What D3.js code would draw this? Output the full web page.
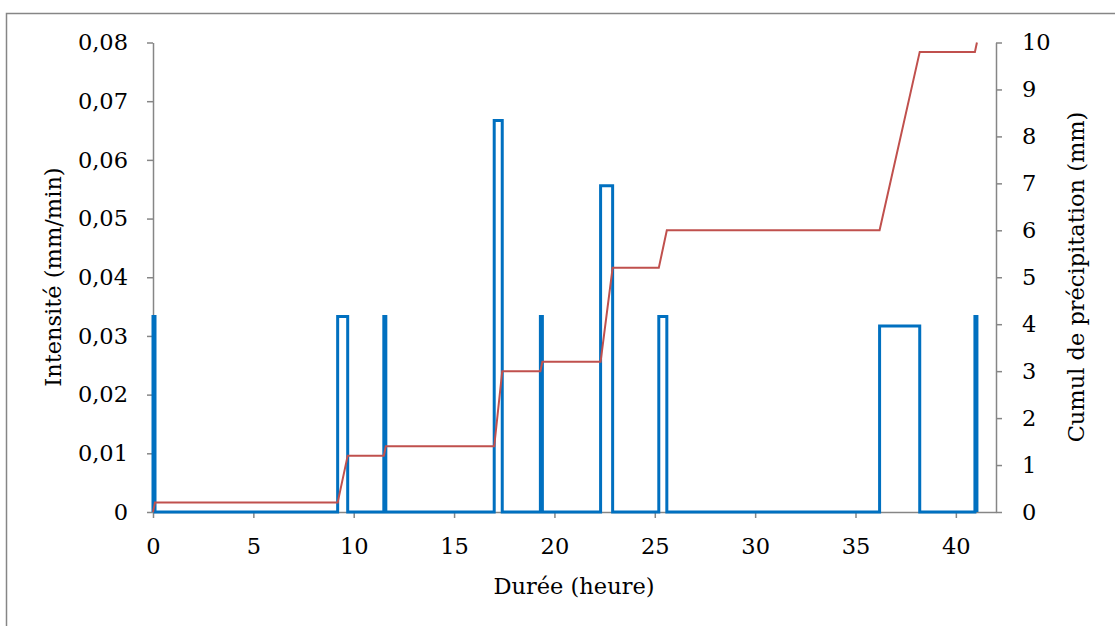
<!DOCTYPE html>
<html><head><meta charset="utf-8">
<script src="https://cdn.jsdelivr.net/npm/d3@7"></script>
<style>body{margin:0;background:#fff}svg{display:block}text{font-family:"DejaVu Serif",serif;fill:#000}</style>
</head><body><svg id="c" width="1115" height="626"></svg>
<script>
// Intensity step series: [start hour, end hour, intensity mm/min]
const burstStart = [0, 9.2, 11.5, 17.0, 19.3, 22.3, 25.2, 36.2, 40.95];
const burstEnd   = [0.1, 9.7, 11.6, 17.4, 19.4, 22.9, 25.6, 38.2, 41.05];
const burstIntensity = [0.0333, 0.0333, 0.0333, 0.0667, 0.0333, 0.0556, 0.0333, 0.0317, 0.0333];
// Cumulative precipitation (mm)
const cumHours = [0, 0.1, 9.2, 9.7, 11.5, 11.6, 17.0, 17.4, 19.3, 19.4, 22.3, 22.9, 25.2, 25.6, 36.2, 38.2, 40.95, 41.05];
const cumValues = [0, 0.2, 0.2, 1.2, 1.2, 1.4, 1.4, 3.0, 3.0, 3.2, 3.2, 5.2, 5.2, 6.0, 6.0, 9.8, 9.8, 10.0];
const xTicks = [0, 5, 10, 15, 20, 25, 30, 35, 40];
const yLeftTicks = [0, 0.01, 0.02, 0.03, 0.04, 0.05, 0.06, 0.07, 0.08];
const yRightTicks = [0,1,2,3,4,5,6,7,8,9,10];

const svg = d3.select("#c");
const x = d3.scaleLinear().domain([0, 42]).range([153, 996]);
const yL = d3.scaleLinear().domain([0, 0.08]).range([512, 42.5]);
const yR = d3.scaleLinear().domain([0, 10]).range([512, 42.5]);
const grey = "#868686";
const FS = "22.5px";

svg.append("rect").attr("x", 6.5).attr("y", 13.5).attr("width", 1300).attr("height", 800)
  .attr("fill", "none").attr("stroke", grey).attr("stroke-width", 1.5);

const fmt = d => d3.format(".2f")(d).replace(".", ",");

const ax = svg.append("g").attr("transform", "translate(0,512)")
  .call(d3.axisBottom(x).tickValues(xTicks).tickSize(6).tickSizeOuter(0).tickPadding(20).tickFormat(d3.format("d")));
const al = svg.append("g").attr("transform", "translate(153,0)")
  .call(d3.axisLeft(yL).tickValues(yLeftTicks).tickSize(6).tickSizeOuter(0).tickPadding(19).tickFormat(d => d === 0 ? "0" : fmt(d)));
const ar = svg.append("g").attr("transform", "translate(996,0)")
  .call(d3.axisRight(yR).tickValues(yRightTicks).tickSize(6).tickSizeOuter(0).tickPadding(20).tickFormat(d3.format("d")));
[ax, al, ar].forEach(g => {
  g.selectAll("path,line").attr("stroke", grey).attr("stroke-width", 1.5);
  g.selectAll("text").style("font-family", "DejaVu Serif, serif").style("font-size", FS).attr("fill", "#000");
});

// Blue step path
const pts = [[0, 0]];
burstStart.forEach((s, i) => {
  pts.push([s, 0], [s, burstIntensity[i]], [burstEnd[i], burstIntensity[i]], [burstEnd[i], 0]);
});
svg.append("path").datum(pts)
  .attr("d", d3.line().x(d => x(d[0])).y(d => yL(d[1])))
  .attr("fill", "none").attr("stroke", "#0070C0").attr("stroke-width", 3).attr("stroke-linejoin", "miter");

svg.append("path").datum(cumHours.map((h, i) => [h, cumValues[i]]))
  .attr("d", d3.line().x(d => x(d[0])).y(d => yR(d[1])))
  .attr("fill", "none").attr("stroke", "#C0504D").attr("stroke-width", 2);

svg.append("text").attr("x", 574).attr("y", 594).attr("text-anchor", "middle").style("font-size", FS).text("Durée (heure)");
svg.append("text").attr("transform", "translate(61,277) rotate(-90)").attr("text-anchor", "middle").style("font-size", FS).text("Intensité (mm/min)");
svg.append("text").attr("transform", "translate(1084,277) rotate(-90)").attr("text-anchor", "middle").style("font-size", FS).text("Cumul de précipitation (mm)");
</script></body></html>
